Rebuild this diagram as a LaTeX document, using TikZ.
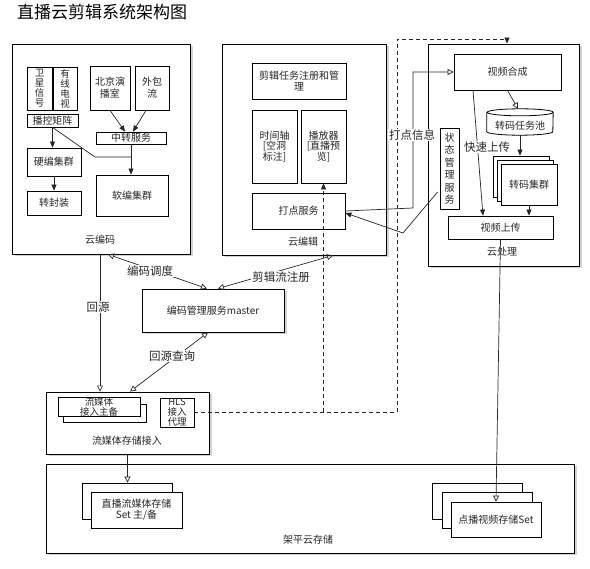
\documentclass[tikz,border=0pt]{standalone}
\usepackage{fontspec}
\setmainfont{Noto Sans CJK SC}
\usetikzlibrary{arrows.meta,shadows}
\begin{document}
\begin{tikzpicture}[x=1pt,y=-1pt,
  every node/.style={font=\fontsize{10}{12}\selectfont, text=black!85, inner sep=0pt, align=center},
  box/.style={draw=black, line width=0.8pt, fill=white},
  outer/.style={draw=black, line width=0.9pt, fill=white, drop shadow={shadow xshift=2.5pt, shadow yshift=-2.5pt, opacity=0.35}},
  lab/.style={font=\fontsize{11.5}{12}\selectfont, fill=white, inner sep=1pt},
  vtext/.style={font=\fontsize{9.5}{10}\selectfont},
  conn/.style={line width=0.7pt, draw=black!85},
  fa/.style={conn, -{Triangle[length=6pt,width=5pt]}},
  oa/.style={conn, -{Triangle[open,length=6pt,width=6pt]}},
  boa/.style={conn, {Triangle[open,length=6pt,width=6pt]}-{Triangle[open,length=6pt,width=6pt]}},
  dsh/.style={conn, dash pattern=on 4pt off 3pt},
]
\useasboundingbox (0,0) rectangle (590,569);
\node[anchor=west, font=\fontsize{17}{18}\selectfont, text=black] (title) at (17,12) {直播云剪辑系统架构图};

% outer boxes
\node[outer, minimum width=178, minimum height=210] (enc) at (101,149) {};
\node[outer, minimum width=164, minimum height=211] (edit) at (304,149.5) {};
\node[outer, minimum width=151, minimum height=222] (proc) at (503.5,155) {};
\node[outer, minimum width=142, minimum height=43] (master) at (213,310.5) {编码管理服务master};
\node[outer, minimum width=163, minimum height=62] (storage) at (127.5,423) {};
\node[outer, minimum width=528, minimum height=89] (yun) at (310,508.5) {};

\node (enclab) at (100,240) {云编码};
\node (editlab) at (303,242) {云编辑};
\node (proclab) at (502,252) {云处理};
\node (storlab) at (127,441) {流媒体存储接入};
\node (yunlab) at (308,540) {架平云存储};

% cloud encoding
\node[box, vtext, minimum width=25, minimum height=43] (sat) at (39.5,88.5) {卫\\星\\信\\号};
\node[box, vtext, minimum width=24, minimum height=43] (cable) at (65,88.5) {有\\线\\电\\视};
\node[box, minimum width=51, minimum height=13] (matrix) at (52.5,120.5) {播控矩阵};
\node[box, minimum width=40, minimum height=44] (studio) at (110,88) {北京演\\播室};
\node[box, minimum width=34, minimum height=44] (outsrc) at (152,88) {外包\\流};
\node[box, minimum width=70, minimum height=12] (relay) at (131,138) {中转服务};
\node[box, minimum width=54, minimum height=28] (hwenc) at (54,162) {硬编集群};
\node[box, minimum width=54, minimum height=24] (remux) at (54,203) {转封装};
\node[box, minimum width=72, minimum height=41] (swenc) at (132,195.5) {软编集群};

% cloud editing
\node[box, minimum width=94, minimum height=36, font=\fontsize{10}{11}\selectfont] (task) at (299,81) {剪辑任务注册和管\\理};
\node[box, minimum width=45, minimum height=73, font=\fontsize{10}{10.5}\selectfont] (timeline) at (274.5,146.5) {时间轴\\{[}空洞\\标注{]}};
\node[box, minimum width=45, minimum height=73, font=\fontsize{10}{10.5}\selectfont] (player) at (323.5,146.5) {播放器\\{[}直播预\\览{]}};
\node[box, minimum width=93, minimum height=36] (dot) at (298.5,211) {打点服务};

% cloud processing
\node[box, minimum width=107, minimum height=36] (compose) at (507.5,72) {视频合成};
\node[minimum width=66, minimum height=19] (pool) at (520,125.5) {转码任务池};
\draw[line width=0.8pt] ([yshift=3.5pt]pool.north west) -- ([yshift=3.5pt]pool.south west)
  arc[start angle=180,end angle=360,x radius=33pt,y radius=3.5pt]
  -- ([yshift=3.5pt]pool.north east)
  arc[start angle=0,end angle=360,x radius=33pt,y radius=3.5pt];
\node[box, minimum width=56, minimum height=41] (tc3) at (521,176.5) {};
\node[box, minimum width=56, minimum height=41] (tc2) at (525,180.5) {};
\node[box, minimum width=56, minimum height=41] (tc1) at (529,184.5) {转码集群};
\node[box, minimum width=19, minimum height=81, font=\fontsize{10}{12.5}\selectfont] (status) at (449.5,168.5) {状\\态\\管\\理\\服\\务};
\node[box, minimum width=105, minimum height=23] (upload) at (500.5,227.5) {视频上传};

% streaming access
\node[box, minimum width=83, minimum height=18] (stream2) at (104.5,413) {};
\node[box, minimum width=82, minimum height=18, font=\fontsize{9.5}{10}\selectfont] (stream1) at (99,407) {流媒体\\接入主备};
\node[box, minimum width=34, minimum height=29, font=\fontsize{9.5}{10}\selectfont] (hls) at (177,412.5) {HLS\\接入\\代理};

% storage
\node[box, minimum width=90, minimum height=36] (live2) at (127,501) {};
\node[box, minimum width=91, minimum height=36, font=\fontsize{10}{11}\selectfont] (live1) at (136.5,510) {直播流媒体存储\\Set 主/备};
\node[box, minimum width=90, minimum height=36] (vod3) at (477,501) {};
\node[box, minimum width=90, minimum height=36] (vod2) at (487,510) {};
\node[box, minimum width=90, minimum height=35] (vod1) at (496,519.5) {点播视频存储Set};

% connectors: encoding
\draw[fa] (studio.south) -- ([xshift=-6pt]relay.north);
\draw[fa] ([xshift=-6pt]outsrc.south) -- ([xshift=2pt]relay.north);
\draw[fa] (matrix.south) -- (matrix.south |- hwenc.north);
\draw[fa] (hwenc.south) -- (remux.north);
\coordinate (mb1) at (95,157);
\coordinate (mb2) at (131,157);
\draw[conn] (matrix.south) -- (mb1) -- (mb2);
\draw[fa] (relay.south) -- (relay.south |- swenc.north);

% connectors: processing
\draw[fa] ([xshift=-34.5pt]compose.south) -- ([xshift=-17.5pt]upload.north);
\draw[oa] (compose.south) -- ([xshift=-2pt,yshift=7pt]pool.north);
\draw[fa] (pool.south) -- (pool.south |- tc3.north);
\draw[fa] (tc1.south) -- (tc1.south |- upload.north);
\draw[oa] (upload.south) -- (vod1.north);

% dot info
\coordinate (dp1) at (413,208);
\draw[oa] (dot.east) -- (dp1) -- (dp1 |- compose.west) -- (compose.west);
\coordinate (sp1) at (403,233);
\draw[fa] ([xshift=-2pt,yshift=-23.5pt]status.west) -- (sp1) -- ([yshift=-2pt]dot.east);

% middle
\draw[boa] ([xshift=7pt]enc.south) -- ([xshift=-6pt]master.north);
\draw[boa] ([xshift=5pt]master.north) -- ([xshift=29pt]edit.south);
\draw[oa] ([xshift=-1pt]enc.south) -- ([xshift=-1pt]enc.south |- storage.north);
\draw[boa] ([xshift=-5pt]master.south) -- ([xshift=2.5pt]storage.north);
\draw[oa] (storage.south) -- (storage.south |- live2.north);

% dashed
\coordinate (dj) at (397,412.5);
\coordinate (dt) at (397,39);
\coordinate (dt2) at (507,39);
\draw[dsh, -{Triangle[length=6pt,width=5pt]}] (hls.east) -- (dj) -- (dt) -- (dt2) -- (dt2 |- proc.north);
\draw[dsh, -{Triangle[length=6pt,width=5pt]}] (player.south |- hls.east) -- (player.south);

% labels
\node[lab] (l1) at (150,271) {编码调度};
\node[lab] (l2) at (281,277) {剪辑流注册};
\node[lab] (l3) at (98,307) {回源};
\node[lab] (l4) at (172,356) {回源查询};
\node[lab] (l5) at (412,135) {打点信息};
\node[lab] (l6) at (487,147) {快速上传};
\end{tikzpicture}
\end{document}
